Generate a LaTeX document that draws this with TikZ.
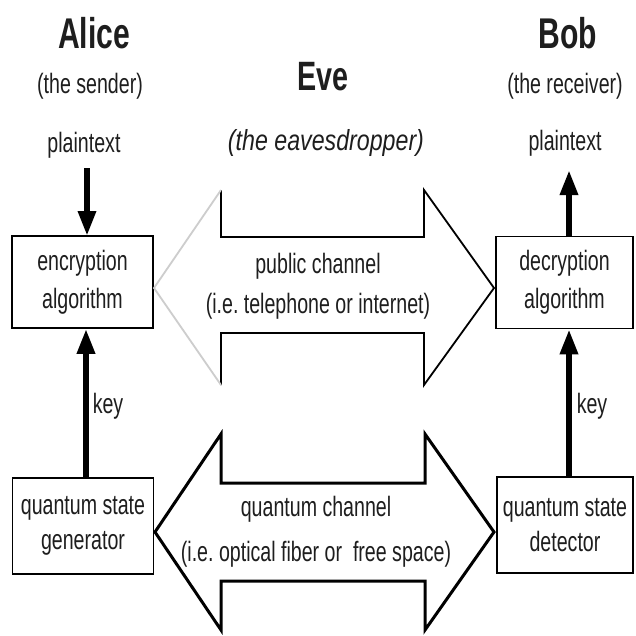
\documentclass[tikz,border=0pt]{standalone}
\usepackage{fontspec}
\setmainfont{Liberation Sans}[FakeStretch=0.7]
\newfontfamily\widefont{Liberation Sans}[FakeStretch=0.8]
\usetikzlibrary{arrows.meta}

\definecolor{ink}{RGB}{30,30,30}
\definecolor{faint}{RGB}{205,205,205}

\begin{document}
\frenchspacing
\begin{tikzpicture}[x=1pt,y=-1pt,
  every node/.style={text=ink},
  box/.style={draw=black, line width=1.5pt, minimum width=141pt, minimum height=92pt,
    inner sep=0pt, align=center, font=\fontsize{28}{38}\selectfont},
  lbl/.style={inner sep=0pt, anchor=base, font=\fontsize{28}{34}\selectfont},
  chanlbl/.style={inner sep=0pt, align=center, font=\fontsize{28}{40}\selectfont},
  heading/.style={inner sep=0pt, anchor=base, font=\bfseries\fontsize{43}{48}\selectfont},
  flow/.style={line width=6pt, -{Triangle[width=17pt,length=25pt]}},
  publine/.style={line width=1.8pt, line join=miter},
  quline/.style={line width=3pt, line join=miter}
]
\useasboundingbox[fill=white] (0,0) rectangle (636,635);

% headings
\node[heading] (alice) at (94,48) {Alice};
\node[heading] (bob) at (568,48) {Bob};
\node[heading, font=\bfseries\fontsize{41}{46}\selectfont] (eve) at (323,90) {Eve};
\node[lbl] (alicesub) at (90,93) {(the sender)};
\node[lbl] (bobsub) at (565,93) {(the receiver)};
\node[lbl, font=\widefont\itshape\fontsize{29}{34}\selectfont] (evesub) at (326,150) {(the eavesdropper)};
\node[lbl] (ptA) at (84,152) {plaintext};
\node[lbl] (ptB) at (565,150) {plaintext};

% boxes
\node[box] (enc) at (82.5,282) {encryption\\algorithm};
\node[box, minimum width=137pt] (dec) at (564.5,282.5) {decryption\\algorithm};
\node[box, minimum height=96pt] (gen) at (83,526) {quantum state\\[-3pt]generator};
\node[box, minimum width=136pt, minimum height=96pt] (det) at (565,525) {quantum state\\[-3pt]detector};

% plaintext and key flows
\coordinate (ptAend) at (87,168);
\coordinate (ptBend) at (569,170);
\draw[flow] (ptAend) -- (87,236);
\draw[flow] (569,237) -- (ptBend);
\draw[flow] (gen.north -| 86,0) -- (enc.south -| 86,0);
\draw[flow] (det.north -| 569,0) -- (dec.south -| 569,0);
\node[lbl] (keyA) at (108,413) {key};
\node[lbl] (keyB) at (592,413) {key};

% public channel (double arrow, left head drawn faint)
\coordinate (pubL) at (154,288);
\coordinate (pubR) at (494,288);
\draw[publine] (221,190) -- (221,237) -- (424,237) -- (424,190) -- (pubR)
  -- (424,385) -- (424,333) -- (221,333) -- (221,385);
\draw[publine, draw=faint] (221,190) -- (pubL) -- (221,385);
\node[chanlbl] (publbl) at (318,286) {public channel\\(i.e. telephone or internet)};

% quantum channel (double arrow)
\coordinate (quL) at (155,532);
\coordinate (quR) at (494,532);
\draw[quline] (221,483) -- (425,483) -- (425,434) -- (quR) -- (425,630)
  -- (425,581) -- (221,581) -- (221,630) -- (quL) -- (221,434) -- cycle;
\node[chanlbl, font=\fontsize{28}{45}\selectfont] (qulbl) at (316,532) {quantum channel\\(i.e. optical fiber or\ \ free space)};
\end{tikzpicture}
\end{document}
